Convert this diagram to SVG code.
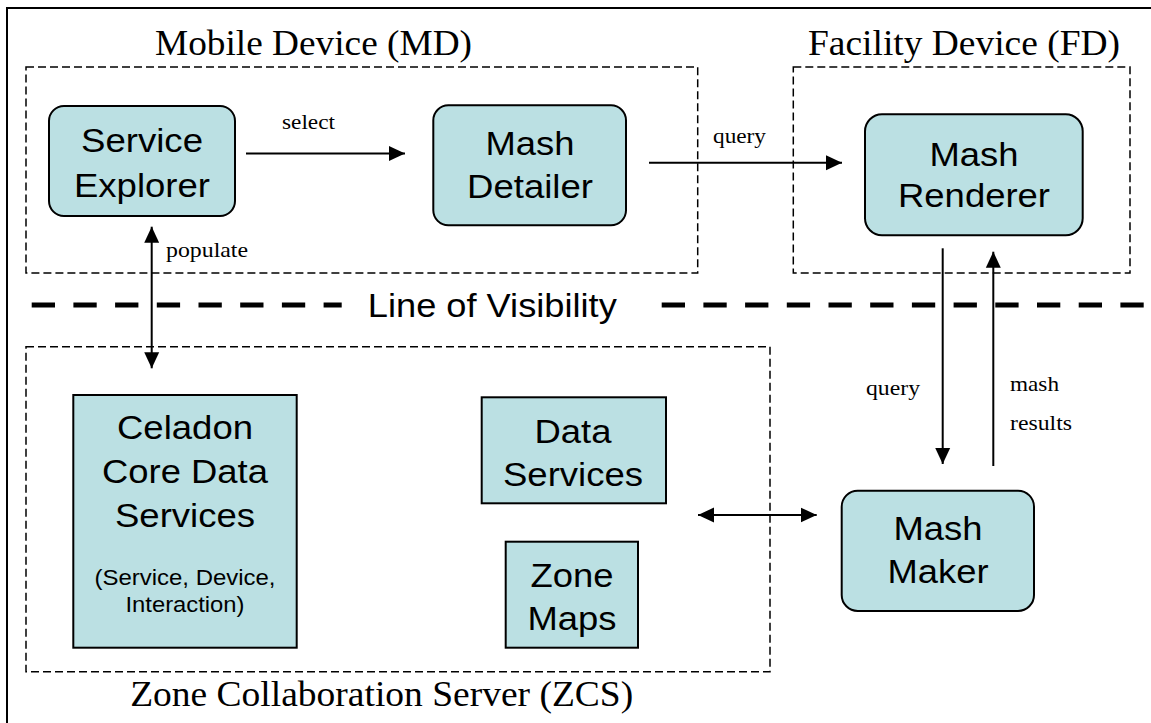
<svg xmlns="http://www.w3.org/2000/svg" width="1151" height="723" viewBox="0 0 1151 723">
  <defs>
    <style>
      .frame { fill: none; stroke: #000; stroke-width: 2; }
      .zone { fill: none; stroke: #000; stroke-width: 1.5; stroke-dasharray: 8 4; }
      .vis { fill: none; stroke: #000; stroke-width: 5; stroke-dasharray: 23.3 18.4; }
      .box { fill: #BBE0E3; stroke: #000; stroke-width: 2; }
      .conn { fill: none; stroke: #000; stroke-width: 2; }
      text { fill: #000; }
      .title { font-family: "Liberation Serif", "Times New Roman", serif; font-size: 35px; text-anchor: middle; }
      .lbl { font-family: "Liberation Serif", "Times New Roman", serif; font-size: 21px; }
      .name { font-family: "Liberation Sans", Arial, sans-serif; font-size: 34px; text-anchor: middle; }
      .small { font-family: "Liberation Sans", Arial, sans-serif; font-size: 22px; text-anchor: middle; }
      .vistext { font-family: "Liberation Sans", Arial, sans-serif; font-size: 34px; text-anchor: middle; }
    </style>
    <marker id="head" markerUnits="userSpaceOnUse" markerWidth="16" markerHeight="16" viewBox="0 0 15 14" refX="15" refY="7" orient="auto-start-reverse">
      <path d="M0,0 L15,7 L0,14 z" fill="#000"/>
    </marker>
  </defs>

  <!-- outer frame -->
  <path class="frame" d="M7,730 V8 H1160"/>

  <!-- system boundaries -->
  <g id="mobile-device">
    <rect class="zone" x="26" y="67" width="671.7" height="206"/>
    <text class="title" x="313.5" y="55" textLength="317" lengthAdjust="spacingAndGlyphs">Mobile Device (MD)</text>
  </g>
  <g id="facility-device">
    <rect class="zone" x="793.3" y="67" width="336.7" height="206"/>
    <text class="title" x="964" y="55" textLength="312" lengthAdjust="spacingAndGlyphs">Facility Device (FD)</text>
  </g>
  <g id="zone-server">
    <rect class="zone" x="26" y="346.7" width="744" height="325"/>
    <text class="title" x="381.7" y="706" textLength="503" lengthAdjust="spacingAndGlyphs">Zone Collaboration Server (ZCS)</text>
  </g>

  <!-- line of visibility -->
  <g id="line-of-visibility">
    <line class="vis" x1="31.7" y1="305" x2="341.7" y2="305"/>
    <line class="vis" x1="661.7" y1="305" x2="1160" y2="305"/>
    <text class="vistext" x="492.3" y="317" textLength="249" lengthAdjust="spacingAndGlyphs">Line of Visibility</text>
  </g>

  <!-- components -->
  <g id="service-explorer">
    <rect class="box" x="49" y="106" width="186" height="110" rx="15"/>
    <text class="name" x="142" y="152" textLength="122" lengthAdjust="spacingAndGlyphs">Service</text>
    <text class="name" x="142" y="197" textLength="136" lengthAdjust="spacingAndGlyphs">Explorer</text>
  </g>
  <g id="mash-detailer">
    <rect class="box" x="433.3" y="105.3" width="192.7" height="120" rx="15"/>
    <text class="name" x="530" y="155" textLength="89" lengthAdjust="spacingAndGlyphs">Mash</text>
    <text class="name" x="530" y="198" textLength="126" lengthAdjust="spacingAndGlyphs">Detailer</text>
  </g>
  <g id="mash-renderer">
    <rect class="box" x="865" y="114.3" width="217.7" height="121" rx="17"/>
    <text class="name" x="974" y="166" textLength="89" lengthAdjust="spacingAndGlyphs">Mash</text>
    <text class="name" x="974" y="207" textLength="152" lengthAdjust="spacingAndGlyphs">Renderer</text>
  </g>
  <g id="mash-maker">
    <rect class="box" x="841.7" y="490.7" width="192.3" height="120.3" rx="16"/>
    <text class="name" x="938" y="540" textLength="89" lengthAdjust="spacingAndGlyphs">Mash</text>
    <text class="name" x="938" y="583" textLength="101" lengthAdjust="spacingAndGlyphs">Maker</text>
  </g>
  <g id="celadon-core">
    <rect class="box" x="73.3" y="395" width="223.4" height="252.7"/>
    <text class="name" x="185" y="439" textLength="136" lengthAdjust="spacingAndGlyphs">Celadon</text>
    <text class="name" x="185" y="483" textLength="166" lengthAdjust="spacingAndGlyphs">Core Data</text>
    <text class="name" x="185" y="527" textLength="140" lengthAdjust="spacingAndGlyphs">Services</text>
    <text class="small" x="185" y="585" textLength="181" lengthAdjust="spacingAndGlyphs">(Service, Device,</text>
    <text class="small" x="185" y="612" textLength="119" lengthAdjust="spacingAndGlyphs">Interaction)</text>
  </g>
  <g id="data-services">
    <rect class="box" x="481.7" y="397.3" width="184.3" height="106"/>
    <text class="name" x="573" y="443" textLength="77" lengthAdjust="spacingAndGlyphs">Data</text>
    <text class="name" x="573" y="486" textLength="140" lengthAdjust="spacingAndGlyphs">Services</text>
  </g>
  <g id="zone-maps">
    <rect class="box" x="505.7" y="541.7" width="132.3" height="106"/>
    <text class="name" x="572" y="587" textLength="83" lengthAdjust="spacingAndGlyphs">Zone</text>
    <text class="name" x="572" y="630" textLength="89" lengthAdjust="spacingAndGlyphs">Maps</text>
  </g>

  <!-- connectors -->
  <g id="connectors">
    <path class="conn" d="M246,153.5 H405" marker-end="url(#head)"/>
    <path class="conn" d="M649,162.7 H842" marker-end="url(#head)"/>
    <path class="conn" d="M151.7,226.7 V368.3" marker-start="url(#head)" marker-end="url(#head)"/>
    <path class="conn" d="M942.7,248.3 V464" marker-end="url(#head)"/>
    <path class="conn" d="M993.3,466 V251.7" marker-end="url(#head)"/>
    <path class="conn" d="M698,515 H816.7" marker-start="url(#head)" marker-end="url(#head)"/>
    <text class="lbl" x="282" y="129" textLength="53" lengthAdjust="spacingAndGlyphs">select</text>
    <text class="lbl" x="713" y="143" textLength="53" lengthAdjust="spacingAndGlyphs">query</text>
    <text class="lbl" x="166" y="257" textLength="82" lengthAdjust="spacingAndGlyphs">populate</text>
    <text class="lbl" x="866" y="395" textLength="54" lengthAdjust="spacingAndGlyphs">query</text>
    <text class="lbl" x="1010" y="391" textLength="49" lengthAdjust="spacingAndGlyphs">mash</text>
    <text class="lbl" x="1010" y="430" textLength="62" lengthAdjust="spacingAndGlyphs">results</text>
  </g>
</svg>
